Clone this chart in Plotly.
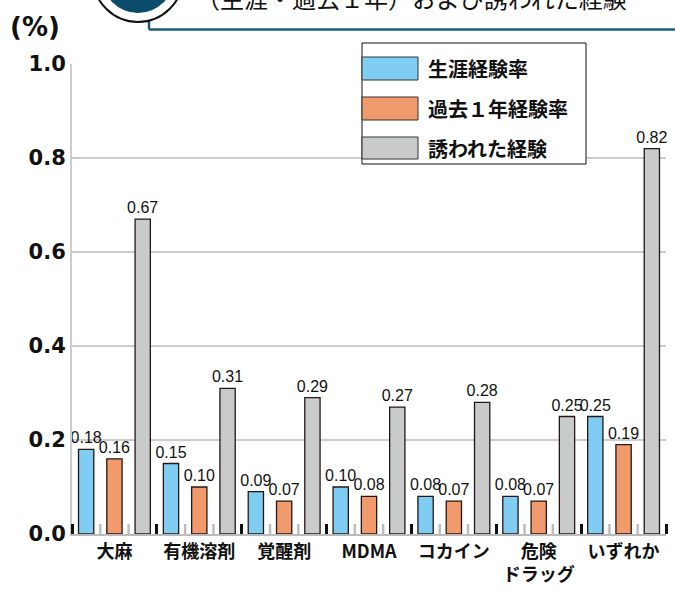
import plotly.graph_objects as go

categories = ["大麻", "有機溶剤", "覚醒剤", "MDMA", "コカイン", "危険<br>ドラッグ", "いずれか"]
series_names = ["生涯経験率", "過去１年経験率", "誘われた経験"]
lifetime = [0.18, 0.15, 0.09, 0.10, 0.08, 0.08, 0.25]
past_year = [0.16, 0.10, 0.07, 0.08, 0.07, 0.07, 0.19]
invited = [0.67, 0.31, 0.29, 0.27, 0.28, 0.25, 0.82]
y_ticks = [0.0, 0.2, 0.4, 0.6, 0.8, 1.0]
title_text = "（生涯・過去１年）および誘われた経験"
unit_text = "(%)"

colors = ["#7fcdf2", "#f19a6c", "#c9caca"]
W, H = 675, 589
L, R, T, B = 72, 9, 64, 55
PW, PH = W - L - R, H - T - B

def px(x):
    return (x - L) / PW

def py(y):
    return (H - B - y) / PH

CJK = "Noto Sans CJK JP"
label_font = dict(family="Liberation Sans Narrow, Liberation Sans, Arial, sans-serif", size=16, color="#111")

n = len(categories)
nser = len(series_names)
xpos = list(range(n))
boundaries = [i - 0.5 for i in range(n + 1)]
between = [i - 0.5 + k / nser for i in range(n) for k in range(1, nser)]

fig = go.Figure()
for name, vals, col in zip(series_names, [lifetime, past_year, invited], colors):
    fig.add_trace(go.Bar(
        x=xpos, y=vals, name=name,
        marker=dict(color=col, line=dict(color="#231815", width=1.3)),
        text=[f"{v:.2f}" for v in vals], textposition="outside",
        textfont=label_font, cliponaxis=False, constraintext="none",
        hoverinfo="skip",
    ))

fig.update_layout(
    width=W, height=H,
    margin=dict(l=L, r=R, t=T, b=B),
    plot_bgcolor="white", paper_bgcolor="white",
    barmode="group", bargap=0.0, bargroupgap=0.46,
    showlegend=False,
    xaxis=dict(
        range=[-0.5, n - 0.5], automargin=False,
        tickmode="array", tickvals=xpos, ticktext=categories, ticks="",
        showline=True, linecolor="#bbbbbb", linewidth=2,
        tickfont=dict(family=CJK, size=18, color="#111", weight="bold"),
        showgrid=False, zeroline=False,
        minor=dict(tickmode="array", tickvals=boundaries, ticks="inside", ticklen=10,
                   tickwidth=2.5, tickcolor="#111", showgrid=False),
    ),
    yaxis=dict(
        range=[0, 1.0], automargin=False, tickmode="array", tickvals=y_ticks,
        ticktext=[f"{v:.1f}" for v in y_ticks],
        showgrid=True, gridcolor="#cccccc", gridwidth=2,
        showline=True, linecolor="#cccccc", linewidth=2,
        zeroline=False, ticks="",
        tickfont=dict(family="DejaVu Sans", size=21, color="#111", weight="bold"),
    ),
)

shapes = []
# small gray marks between bars inside each group
for b in between:
    shapes.append(dict(type="line", xref="x", yref="paper", x0=b, x1=b, y0=0, y1=10 / PH,
                       line=dict(color="#bdbdbd", width=2.5), layer="above"))
# title box lines
shapes.append(dict(type="line", xref="paper", yref="paper", x0=px(149), x1=px(149), y0=py(-10), y1=py(29.5),
                   line=dict(color="#1c5c7c", width=2.5)))
shapes.append(dict(type="line", xref="paper", yref="paper", x0=px(149), x1=px(700), y0=py(29.5), y1=py(29.5),
                   line=dict(color="#1c5c7c", width=2.5)))
# circle badge
shapes.append(dict(type="circle", xref="paper", yref="paper", x0=px(93), x1=px(183), y0=py(-68), y1=py(22),
                   fillcolor="white", line=dict(color="#111", width=2)))
shapes.append(dict(type="circle", xref="paper", yref="paper", x0=px(102), x1=px(174), y0=py(-59), y1=py(13),
                   fillcolor="#0b4c6d", line=dict(width=0)))
# legend box
shapes.append(dict(type="rect", xref="paper", yref="paper", x0=px(362), x1=px(586), y0=py(164), y1=py(43),
                   fillcolor="white", line=dict(color="#111", width=1)))
annotations = []
sw_y = [(57, 80), (97, 120), (137, 159)]
for (y0, y1), col, name in zip(sw_y, colors, series_names):
    shapes.append(dict(type="rect", xref="paper", yref="paper", x0=px(362), x1=px(418), y0=py(y1), y1=py(y0),
                       fillcolor=col, line=dict(color="#333", width=1)))
    annotations.append(dict(xref="paper", yref="paper", x=px(426), y=py((y0 + y1) / 2), text=name,
                            showarrow=False, xanchor="left", yanchor="middle",
                            font=dict(family=CJK, size=20, color="#111", weight="bold")))

annotations.append(dict(xref="paper", yref="paper", x=px(35), y=py(27), text=unit_text, showarrow=False,
                        xanchor="center", yanchor="middle",
                        font=dict(family="DejaVu Sans", size=26, color="#111", weight="bold")))
annotations.append(dict(xref="paper", yref="paper", x=px(194), y=py(-2), text=title_text, showarrow=False,
                        xanchor="left", yanchor="middle",
                        font=dict(family=CJK, size=24, color="#111")))

fig.update_layout(shapes=shapes, annotations=annotations)
fig.write_html("out.html", config={"displayModeBar": False},
               post_script="document.body.style.margin='0px';document.body.style.overflow='hidden';")
